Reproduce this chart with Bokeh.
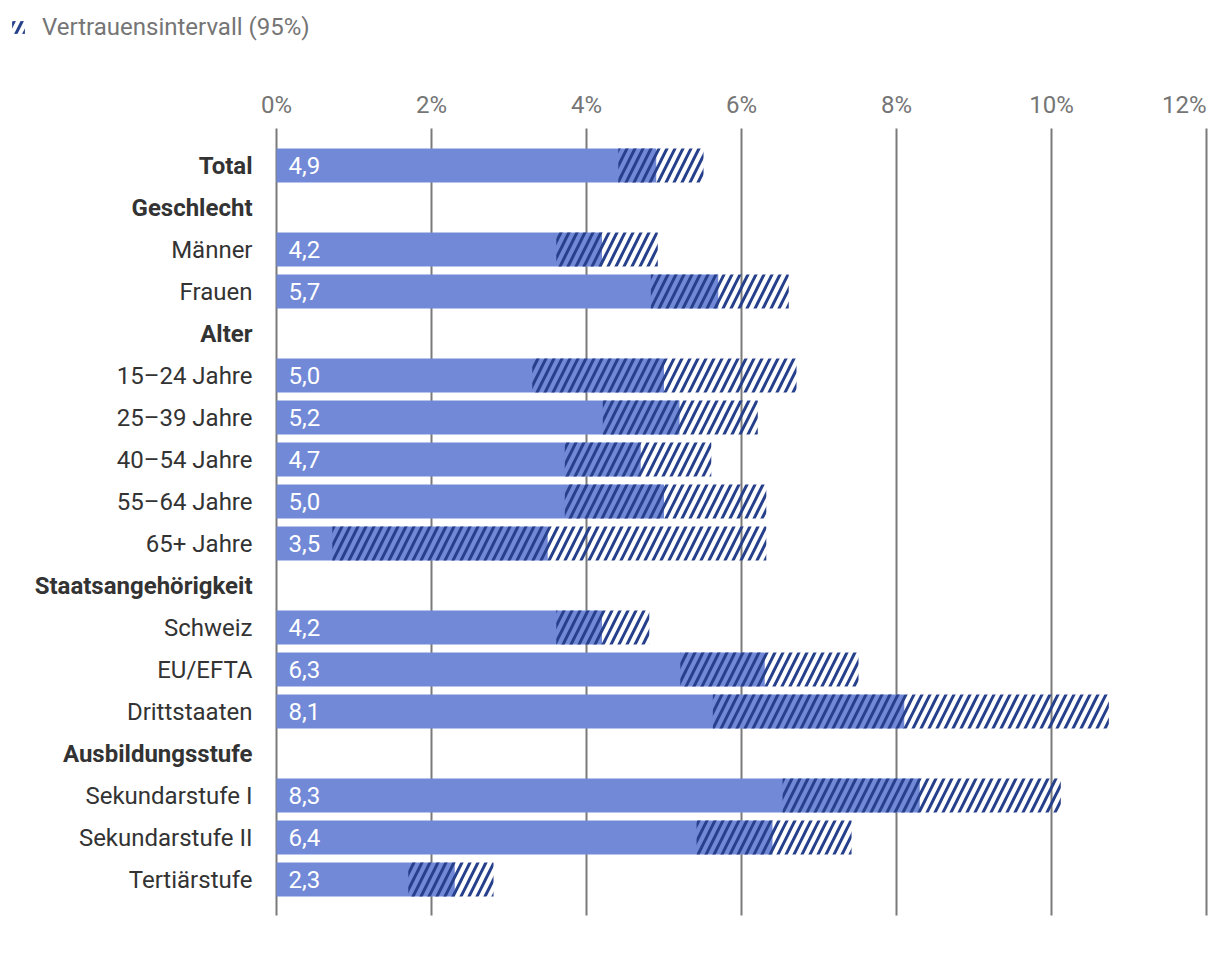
from bokeh.plotting import figure
from bokeh.models import Range1d, ColumnDataSource, Legend, LegendItem
from bokeh.core.properties import value
from bokeh.embed import file_html
from bokeh.resources import INLINE

categories = ["Total", "Geschlecht", "Männer", "Frauen", "Alter", "15–24 Jahre",
              "25–39 Jahre", "40–54 Jahre", "55–64 Jahre", "65+ Jahre",
              "Staatsangehörigkeit", "Schweiz", "EU/EFTA", "Drittstaaten",
              "Ausbildungsstufe", "Sekundarstufe I", "Sekundarstufe II", "Tertiärstufe"]
headers = ["Total", "Geschlecht", "Alter", "Staatsangehörigkeit", "Ausbildungsstufe"]
values = [4.9, None, 4.2, 5.7, None, 5.0, 5.2, 4.7, 5.0, 3.5,
          None, 4.2, 6.3, 8.1, None, 8.3, 6.4, 2.3]
ci_low = [4.41, None, 3.61, 4.83, None, 3.30, 4.21, 3.72, 3.72, 0.72,
          None, 3.61, 5.21, 5.63, None, 6.53, 5.42, 1.70]
ci_high = [5.51, None, 4.92, 6.61, None, 6.71, 6.21, 5.61, 6.32, 6.32,
           None, 4.81, 7.51, 10.74, None, 10.12, 7.42, 2.80]
x_ticks = [0, 2, 4, 6, 8, 10, 12]
legend_label = "Vertrauensintervall (95%)"

FONT = "Roboto"
FS = "24px"
BAR = "#7189d7"
HATCH = "#27408b"
GRID = "#7a7a7a"
TEXT_DARK = "#333333"
TEXT_GREY = "#757575"

# layout (pixels)
W, H = 1212, 944
X0_PX = 276          # pixel column of 0 %
PX_PER_UNIT = 77.5   # pixels per percentage point
ROW0_PX = 165        # pixel row of first category
ROW_PX = 42          # pixels per category row

rows = list(range(len(categories)))
data_idx = [i for i in rows if values[i] is not None]
src = ColumnDataSource(dict(
    y=data_idx,
    value=[values[i] for i in data_idx],
    low=[ci_low[i] for i in data_idx],
    high=[ci_high[i] for i in data_idx],
    zero=[0] * len(data_idx),
    label=[f"{values[i]:.1f}".replace(".", ",") for i in data_idx],
))
hdr_idx = [i for i in rows if categories[i] in headers]
cat_idx = [i for i in rows if categories[i] not in headers]
hdr_src = ColumnDataSource(dict(y=hdr_idx, x=[0] * len(hdr_idx),
                                text=[categories[i] for i in hdr_idx]))
cat_src = ColumnDataSource(dict(y=cat_idx, x=[0] * len(cat_idx),
                                text=[categories[i] for i in cat_idx]))

grid_top = rows[0] - 37 / ROW_PX
grid_bottom = rows[-1] + 36 / ROW_PX
tick_label_y = rows[0] - 61 / ROW_PX
tick_src = ColumnDataSource(dict(
    x=x_ticks,
    y0=[grid_top] * len(x_ticks),
    y1=[grid_bottom] * len(x_ticks),
    ly=[tick_label_y] * len(x_ticks),
    text=[f"{t}%" for t in x_ticks],
    align=["center"] * (len(x_ticks) - 1) + ["right"],
))

p = figure(width=W, height=H,
           x_range=Range1d(-X0_PX / PX_PER_UNIT, (W - X0_PX) / PX_PER_UNIT),
           y_range=Range1d((H - ROW0_PX) / ROW_PX, -ROW0_PX / ROW_PX),
           output_backend="svg", toolbar_location=None,
           min_border=0, min_border_left=0, min_border_right=0,
           min_border_top=0, min_border_bottom=0)
p.outline_line_color = None
p.axis.visible = False
p.grid.visible = False
p.background_fill_color = "white"
p.border_fill_color = "white"

# gridlines + tick labels
p.segment(x0="x", y0="y0", x1="x", y1="y1", line_color=GRID, line_width=2,
          source=tick_src)
p.text(x="x", y="ly", text="text", text_align="align", text_baseline="middle",
       text_font=value(FONT), text_font_size=FS, text_color=TEXT_GREY,
       source=tick_src)

# bars
p.hbar(y="y", left="zero", right="value", height=0.81, fill_color=BAR,
       line_color=None, source=src)
ci = p.hbar(y="y", left="low", right="high", height=0.81, fill_color=None,
            line_color=None, hatch_pattern="/", hatch_color=HATCH,
            hatch_weight=3, hatch_scale=16, source=src)

# value labels
p.text(x="zero", y="y", text="label", x_offset=12, text_align="left",
       text_baseline="middle", text_color="white", text_font=value(FONT),
       text_font_size=FS, source=src)

# category labels
p.text(x="x", y="y", text="text", x_offset=-24, text_align="right",
       text_baseline="middle", text_color=TEXT_DARK, text_font=value(FONT),
       text_font_size=FS, source=cat_src)
p.text(x="x", y="y", text="text", x_offset=-24, text_align="right",
       text_baseline="middle", text_color=TEXT_DARK, text_font=value(FONT),
       text_font_size=FS, text_font_style="bold", source=hdr_src)

legend = Legend(items=[LegendItem(label=legend_label, renderers=[ci])],
                location=(10, 903), orientation="horizontal",
                glyph_width=16, glyph_height=16, label_standoff=16,
                padding=0, margin=0, spacing=0,
                border_line_color=None, background_fill_alpha=0,
                label_text_font=FONT, label_text_font_size=FS,
                label_text_color=TEXT_GREY)
p.add_layout(legend)

open("out.html", "w").write(file_html(p, INLINE))
